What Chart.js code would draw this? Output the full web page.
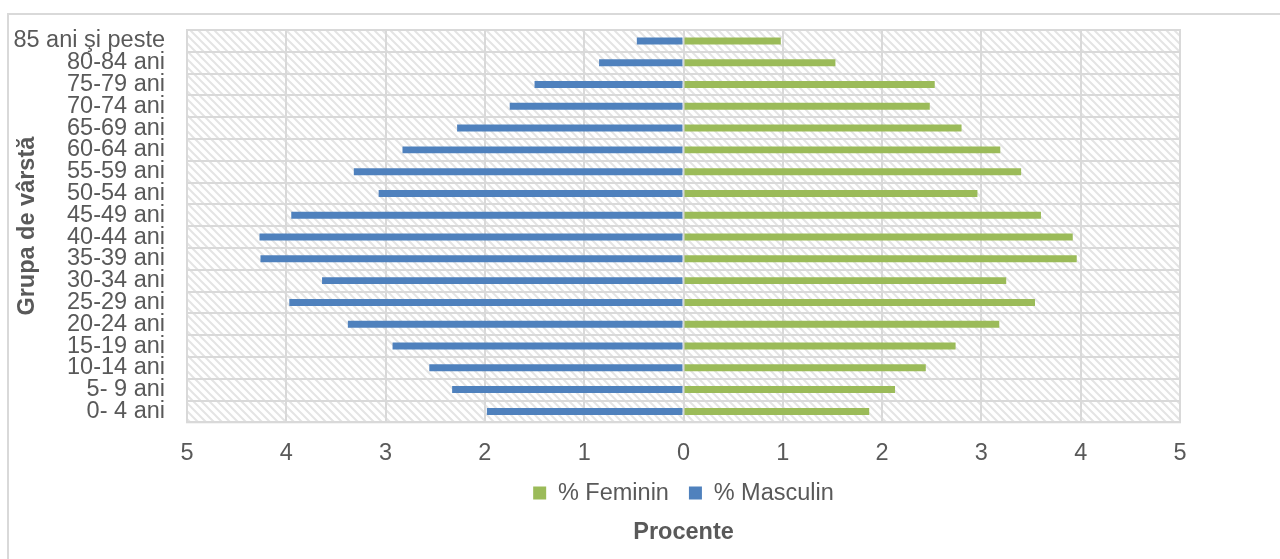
<!DOCTYPE html>
<html>
<head>
<meta charset="utf-8">
<script src="https://cdn.jsdelivr.net/npm/chart.js@4/dist/chart.umd.min.js"></script>
<style>
  html, body { margin: 0; padding: 0; background: #fff; overflow: hidden; }
  #frame { position: absolute; left: 7px; top: 13px; width: 1320px; height: 600px; border: 2px solid #d9d9d9; }
  #wrap { position: absolute; left: 0; top: 0; width: 1280px; height: 559px; }
</style>
</head>
<body>
<div id="frame"></div>
<div id="wrap"><canvas id="myChart"></canvas></div>
<script>
// age groups, top to bottom
var grupe = ["85 ani şi peste", "80-84 ani", "75-79 ani", "70-74 ani", "65-69 ani", "60-64 ani", "55-59 ani",
	"50-54 ani", "45-49 ani", "40-44 ani", "35-39 ani", "30-34 ani", "25-29 ani", "20-24 ani", "15-19 ani",
	"10-14 ani", "5- 9 ani", "0- 4 ani"]

// percent values (masculin drawn to the left, so stored negative)
var feminin = [0.98, 1.53, 2.53, 2.48, 2.80, 3.19, 3.40, 2.96, 3.60, 3.92, 3.96, 3.25, 3.54, 3.18, 2.74, 2.44, 2.13, 1.87]
var masculin = [-0.47, -0.85, -1.50, -1.75, -2.28, -2.83, -3.32, -3.07, -3.95, -4.27, -4.26, -3.64, -3.97, -3.38, -2.93, -2.56, -2.33, -1.98]

var xMin = -5, xMax = 5, xStep = 1

var font = "'Liberation Sans', Arial, sans-serif"
var gray = "#595959"
var gridColor = "#d9d9d9"

// hatched background of the plot area
var tile = document.createElement("canvas")
tile.width = 8
tile.height = 8
var t = tile.getContext("2d")
t.strokeStyle = "#e4e4e4"
t.lineWidth = 2
t.beginPath()
t.moveTo(-1, -1); t.lineTo(9, 9)
t.moveTo(-1, 7); t.lineTo(1, 9)
t.moveTo(7, -1); t.lineTo(9, 1)
t.stroke()

var hatchPlugin = {
	id: "hatch",
	beforeDraw: function(chart) {
		var a = chart.chartArea, ctx = chart.ctx
		ctx.save()
		ctx.fillStyle = ctx.createPattern(tile, "repeat")
		ctx.fillRect(a.left, a.top, a.right - a.left, a.bottom - a.top)
		ctx.restore()
	},
	beforeDatasetsDraw: function(chart) {
		var a = chart.chartArea, ctx = chart.ctx
		ctx.save()
		ctx.strokeStyle = gridColor
		ctx.lineWidth = 2
		ctx.strokeRect(a.left, a.top, a.right - a.left, a.bottom - a.top)
		ctx.restore()
	}
}

var canvasCtx = document.getElementById("myChart").getContext("2d")
var config = {
	type: "bar",
	data: {
		labels: grupe,
		datasets: [
			{label: "% Feminin", data: feminin, backgroundColor: "#9bbb59", borderWidth: 0},
			{label: "% Masculin", data: masculin, backgroundColor: "#4f81bd", borderWidth: 0}
		]
	},
	options: {
		indexAxis: "y",
		responsive: true,
		maintainAspectRatio: false,
		animation: false,
		events: [],
		barPercentage: 0.32,
		categoryPercentage: 1,
		layout: {padding: {left: 7, top: 30, right: 100, bottom: 0}},
		scales: {
			x: {
				stacked: true,
				min: xMin,
				max: xMax,
				grid: {color: gridColor, lineWidth: 2, drawTicks: false},
				border: {display: false},
				ticks: {
					stepSize: xStep,
					padding: 17,
					color: gray,
					font: {family: font, size: 23.5},
					callback: function(v) { return Math.abs(v) }
				},
				afterFit: function(scale) { scale.height = 39 }
			},
			y: {
				stacked: true,
				grid: {color: gridColor, lineWidth: 2, drawTicks: false},
				border: {display: false},
				ticks: {padding: 22, color: gray, font: {family: font, size: 23.5}, autoSkip: false},
				title: {display: true, text: "Grupa de vârstă", color: gray, padding: {top: 6, bottom: 0},
					font: {family: font, size: 23.5, weight: "bold"}},
				afterFit: function(scale) {
					scale.width = 180
					scale.paddingTop = 0
					scale.paddingBottom = 0
				}
			}
		},
		plugins: {
			legend: {
				position: "bottom",
				fullSize: false,
				labels: {boxWidth: 13, boxHeight: 13, padding: 20, color: gray, font: {family: font, size: 23.5}}
			},
			title: {
				display: true,
				position: "bottom",
				fullSize: false,
				text: "Procente",
				color: gray,
				padding: {top: 4, bottom: 12},
				font: {family: font, size: 23.5, weight: "bold"}
			},
			tooltip: {enabled: false}
		}
	},
	plugins: [hatchPlugin]
}
var myChart = new Chart(canvasCtx, config)
</script>
</body>
</html>
